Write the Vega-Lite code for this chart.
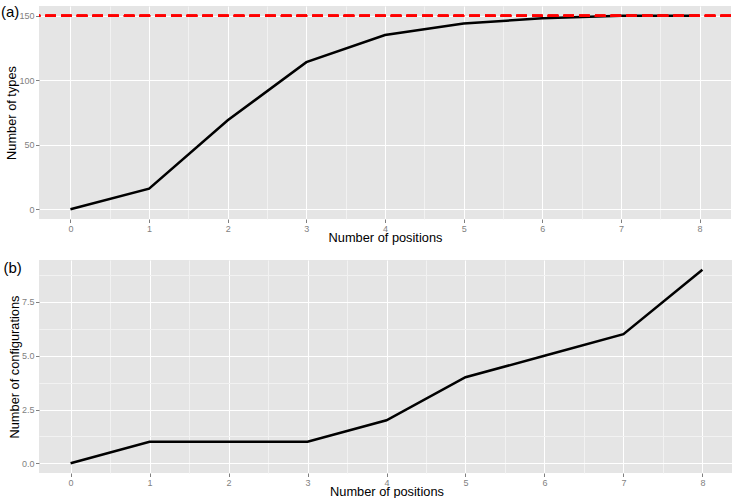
{
  "$schema": "https://vega.github.io/schema/vega-lite/v6.json",
  "padding": {"left": 0, "top": 5, "right": 1, "bottom": 0},
  "spacing": 16,
  "align": "none",
  "config": {
    "font": "Liberation Sans",
    "view": {"fill": "#E5E5E5", "stroke": null},
    "axis": {
      "domain": false,
      "tickSize": 3.5,
      "tickColor": "#7F7F7F",
      "labelColor": "#7F7F7F",
      "labelFont": "Liberation Sans",
      "labelFontSize": 9,
      "labelPadding": 1.5,
      "titleFont": "Liberation Sans",
      "titleFontSize": 12.8,
      "titleFontWeight": "normal",
      "titleColor": "#000000",
      "gridWidth": 1
    },
    "axisX": {"titlePadding": -2},
    "axisY": {"titlePadding": 0},
    "title": {"font": "Liberation Sans", "fontSize": 15, "fontWeight": "normal", "color": "#000000"}
  },
  "datasets": {
    "types": [
      {"positions": 0, "types": 0},
      {"positions": 1, "types": 16},
      {"positions": 2, "types": 69},
      {"positions": 3, "types": 114},
      {"positions": 4, "types": 135},
      {"positions": 5, "types": 144},
      {"positions": 6, "types": 148},
      {"positions": 7, "types": 150},
      {"positions": 8, "types": 150}
    ],
    "configs": [
      {"positions": 0, "configurations": 0},
      {"positions": 1, "configurations": 1},
      {"positions": 2, "configurations": 1},
      {"positions": 3, "configurations": 1},
      {"positions": 4, "configurations": 2},
      {"positions": 5, "configurations": 4},
      {"positions": 6, "configurations": 5},
      {"positions": 7, "configurations": 6},
      {"positions": 8, "configurations": 9}
    ]
  },
  "vconcat": [
    {
      "width": 692,
      "height": 213,
      "title": {"text": "(a)", "anchor": "start", "frame": "bounds", "offset": -14, "dx": -5},
      "data": {"name": "types"},
      "layer": [
        {
          "mark": {"type": "line", "color": "#000000", "strokeWidth": 2.5},
          "encoding": {
            "x": {
              "field": "positions", "type": "quantitative", "title": "Number of positions",
              "scale": {"domain": [-0.4, 8.4], "nice": false, "zero": false},
              "axis": {
                "values": [0, 0.5, 1, 1.5, 2, 2.5, 3, 3.5, 4, 4.5, 5, 5.5, 6, 6.5, 7, 7.5, 8],
                "labelExpr": "datum.value % 1 === 0 ? format(datum.value, 'd') : ''",
                "gridColor": {"condition": {"test": "datum.value % 1 !== 0", "value": "#F2F2F2"}, "value": "#FFFFFF"},
                "tickOpacity": {"condition": {"test": "datum.value % 1 !== 0", "value": 0}, "value": 1}
              }
            },
            "y": {
              "field": "types", "type": "quantitative", "title": "Number of types",
              "scale": {"domain": [-7.5, 157.5], "nice": false, "zero": false},
              "axis": {
                "values": [0, 25, 50, 75, 100, 125, 150],
                "labelExpr": "datum.value % 50 === 0 ? format(datum.value, 'd') : ''",
                "gridColor": {"condition": {"test": "datum.value % 50 !== 0", "value": "#F2F2F2"}, "value": "#FFFFFF"},
                "tickOpacity": {"condition": {"test": "datum.value % 50 !== 0", "value": 0}, "value": 1}
              }
            }
          }
        },
        {
          "mark": {"type": "rule", "color": "#FF0000", "strokeWidth": 2, "strokeDash": [10.5, 5.2]},
          "encoding": {"y": {"datum": 150, "type": "quantitative"}}
        }
      ]
    },
    {
      "width": 695,
      "height": 213,
      "title": {"text": "(b)", "anchor": "start", "frame": "bounds", "offset": -16, "dx": -5},
      "data": {"name": "configs"},
      "mark": {"type": "line", "color": "#000000", "strokeWidth": 2.5},
      "encoding": {
        "x": {
          "field": "positions", "type": "quantitative", "title": "Number of positions",
          "scale": {"domain": [-0.4, 8.4], "nice": false, "zero": false},
          "axis": {
            "values": [0, 0.5, 1, 1.5, 2, 2.5, 3, 3.5, 4, 4.5, 5, 5.5, 6, 6.5, 7, 7.5, 8],
            "labelExpr": "datum.value % 1 === 0 ? format(datum.value, 'd') : ''",
            "gridColor": {"condition": {"test": "datum.value % 1 !== 0", "value": "#F2F2F2"}, "value": "#FFFFFF"},
            "tickOpacity": {"condition": {"test": "datum.value % 1 !== 0", "value": 0}, "value": 1}
          }
        },
        "y": {
          "field": "configurations", "type": "quantitative", "title": "Number of configurations",
          "scale": {"domain": [-0.45, 9.45], "nice": false, "zero": false},
          "axis": {
            "values": [0, 1.25, 2.5, 3.75, 5, 6.25, 7.5, 8.75],
            "labelExpr": "datum.value % 2.5 === 0 ? format(datum.value, '.1f') : ''",
            "gridColor": {"condition": {"test": "datum.value % 2.5 !== 0", "value": "#F2F2F2"}, "value": "#FFFFFF"},
            "tickOpacity": {"condition": {"test": "datum.value % 2.5 !== 0", "value": 0}, "value": 1}
          }
        }
      }
    }
  ]
}
